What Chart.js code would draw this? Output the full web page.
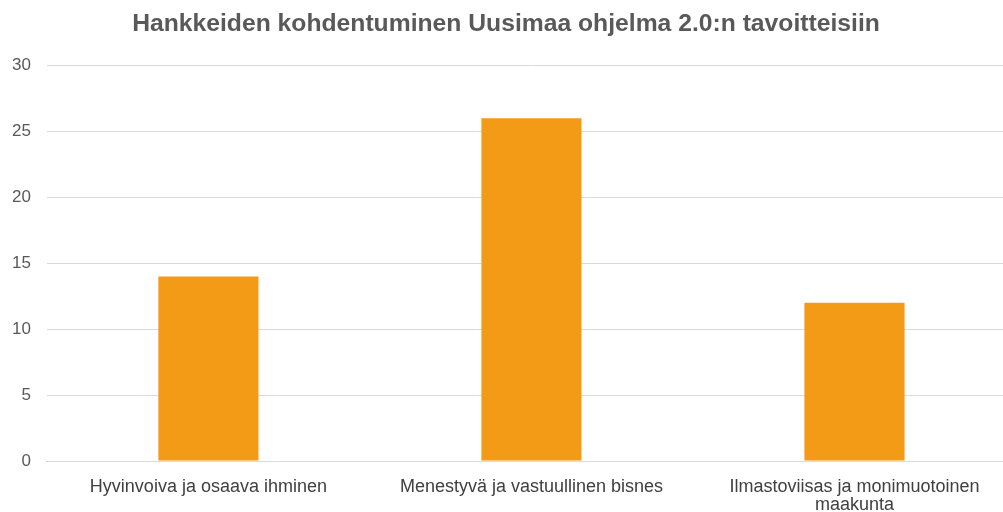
<!DOCTYPE html>
<html>
<head>
<meta charset="utf-8">
<script src="https://cdn.jsdelivr.net/npm/chart.js@4"></script>
<style>
  html, body { margin: 0; padding: 0; background: #fff; overflow: hidden; }
  #wrap { width: 1003px; height: 512px; overflow: hidden; }
</style>
</head>
<body>
<div id="wrap"><canvas id="myChart" width="1030" height="512"></canvas></div>
<script>
const title = 'Hankkeiden kohdentuminen Uusimaa ohjelma 2.0:n tavoitteisiin';

const categories = [
    'Hyvinvoiva ja osaava ihminen',
    'Menestyvä ja vastuullinen bisnes',
    ['Ilmastoviisas ja monimuotoinen', 'maakunta']
];

const projects = [14, 26, 12];

const yTicks = [0, 5, 10, 15, 20, 25, 30];

const fontFamily = '"Liberation Sans", Arial, sans-serif';

const ctx = document.getElementById('myChart').getContext('2d');

const chart = new Chart(ctx, {
    type: 'bar',
    data: {
        labels: categories,
        datasets: [{
            label: 'Hankkeet',
            data: projects,
            backgroundColor: '#F39A17',
            borderWidth: 0,
            barPercentage: 0.31,
            categoryPercentage: 1
        }]
    },
    options: {
        responsive: false,
        animation: false,
        layout: { padding: { left: -4, right: 14, top: 9, bottom: -19 } },
        plugins: {
            legend: { display: false },
            tooltip: { enabled: false },
            title: {
                display: true,
                text: title,
                color: '#595959',
                font: { family: fontFamily, size: 24.7, weight: 'bold' },
                padding: { top: 0, bottom: 27 }
            }
        },
        scales: {
            x: {
                grid: { display: false, drawTicks: false },
                border: { color: '#d9d9d9', width: 1 },
                ticks: {
                    color: '#404040',
                    font: { family: fontFamily, size: 18, lineHeight: 1.0 },
                    padding: 17,
                    maxRotation: 0,
                    autoSkip: false
                }
            },
            y: {
                min: 0,
                max: 30,
                afterBuildTicks: axis => {
                    axis.ticks = yTicks.map(v => ({ value: v }));
                },
                grid: { color: '#d9d9d9', drawTicks: false },
                border: { display: false },
                ticks: {
                    color: '#595959',
                    font: { family: fontFamily, size: 17 },
                    padding: 16
                }
            }
        }
    }
});
</script>
</body>
</html>
